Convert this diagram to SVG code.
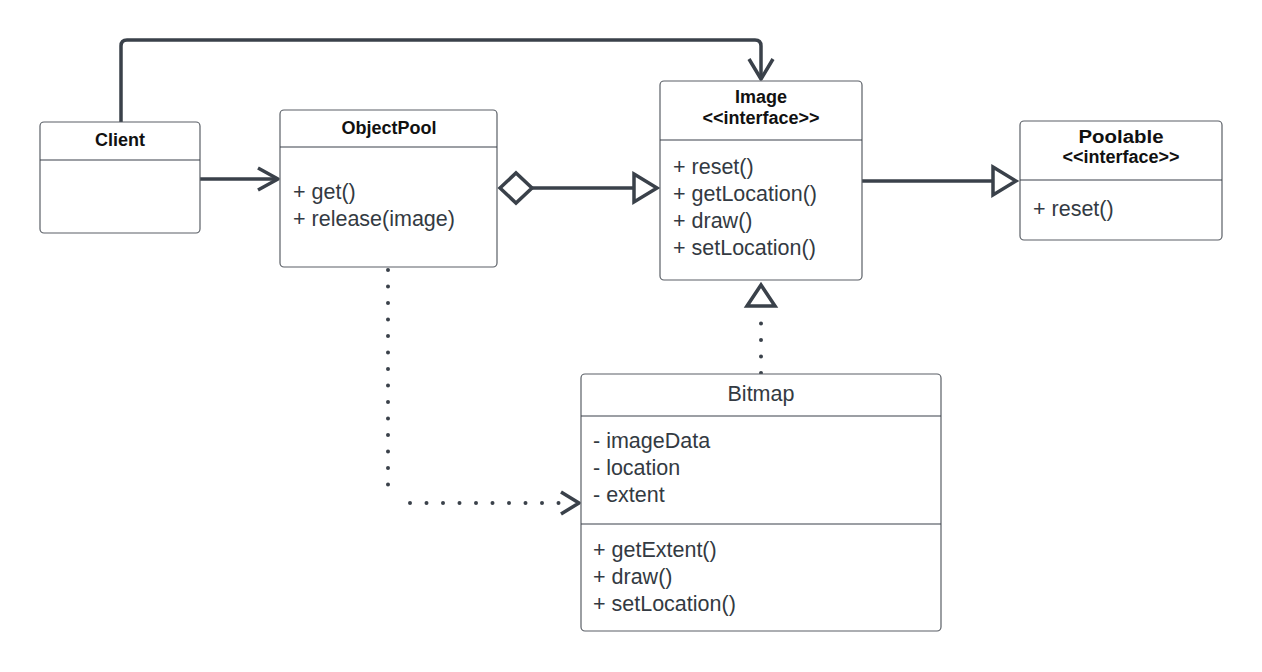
<svg xmlns="http://www.w3.org/2000/svg" width="1262" height="672" viewBox="0 0 1262 672">
<style>
.box{fill:#ffffff;stroke:#5a5f66;stroke-width:1.2}
.div{stroke:#3a414a;stroke-width:1.2}
.t{font-family:"Liberation Sans",Arial,sans-serif;font-size:18px;font-weight:bold;fill:#111111;text-anchor:middle}
.b{font-family:"Liberation Sans",Arial,sans-serif;font-size:21.5px;fill:#333a42}
.c{font-family:"Liberation Sans",Arial,sans-serif;font-size:21.5px;fill:#333a42;text-anchor:middle}
.ln{fill:none;stroke:#3a414a;stroke-width:3.5;stroke-linejoin:round}
.hd{fill:#ffffff;stroke:#3a414a;stroke-width:3.5;stroke-linejoin:miter}
.dot{fill:none;stroke:#3a414a;stroke-width:4;stroke-linecap:round;stroke-dasharray:0 16.5}
</style>
<rect width="1262" height="672" fill="#ffffff"/>
<g id="connectors">
  <path class="ln" d="M121 122 V46 Q121 40 127 40 H755 Q761 40 761 46 V79"/>
  <path class="ln" d="M749 59 L761 79 L773 59"/>
  <path class="ln" d="M200 179 H278"/>
  <path class="ln" d="M258 168 L278 179 L258 190"/>
  <path class="ln" d="M532 188 H634"/>
  <polygon class="hd" points="500,188 516,173 532,188 516,203"/>
  <polygon class="hd" points="634,174 657,188 634,202"/>
  <path class="ln" d="M862 181 H993"/>
  <polygon class="hd" points="993,167 1016,181 993,195"/>
  <path class="dot" d="M761 373 V323"/>
  <polygon class="hd" points="747,306 761,285 775,306"/>
  <path class="dot" d="M388 270 V497"/>
  <path class="dot" d="M410 503 H560"/>
  <path class="ln" d="M561 492 L579 503 L561 514"/>
</g>
<g id="client">
  <rect class="box" x="40" y="122" width="160" height="111" rx="4"/>
  <line class="div" x1="40" y1="160" x2="200" y2="160"/>
  <text class="t" x="120" y="146">Client</text>
</g>
<g id="objectpool">
  <rect class="box" x="280" y="110" width="217" height="157" rx="4"/>
  <line class="div" x1="280" y1="147" x2="497" y2="147"/>
  <text class="t" x="389" y="134">ObjectPool</text>
  <text class="b" x="293" y="199">+ get()</text>
  <text class="b" x="293" y="226">+ release(image)</text>
</g>
<g id="image">
  <rect class="box" x="660" y="81" width="202" height="199" rx="4"/>
  <line class="div" x1="660" y1="140" x2="862" y2="140"/>
  <text class="t" x="761" y="103">Image</text>
  <text class="t" x="761" y="124">&lt;&lt;interface&gt;&gt;</text>
  <text class="b" x="673" y="174">+ reset()</text>
  <text class="b" x="673" y="201">+ getLocation()</text>
  <text class="b" x="673" y="228">+ draw()</text>
  <text class="b" x="673" y="255">+ setLocation()</text>
</g>
<g id="poolable">
  <rect class="box" x="1020" y="121" width="202" height="119" rx="4"/>
  <line class="div" x1="1020" y1="180" x2="1222" y2="180"/>
  <text class="t" x="1121" y="143" textLength="85" lengthAdjust="spacingAndGlyphs">Poolable</text>
  <text class="t" x="1121" y="163">&lt;&lt;interface&gt;&gt;</text>
  <text class="b" x="1033" y="216">+ reset()</text>
</g>
<g id="bitmap">
  <rect class="box" x="581" y="374" width="360" height="257" rx="4"/>
  <line class="div" x1="581" y1="416" x2="941" y2="416"/>
  <line class="div" x1="581" y1="524" x2="941" y2="524"/>
  <text class="c" x="761" y="401">Bitmap</text>
  <text class="b" x="593" y="448">- imageData</text>
  <text class="b" x="593" y="475">- location</text>
  <text class="b" x="593" y="502">- extent</text>
  <text class="b" x="593" y="557">+ getExtent()</text>
  <text class="b" x="593" y="584">+ draw()</text>
  <text class="b" x="593" y="611">+ setLocation()</text>
</g>
</svg>
